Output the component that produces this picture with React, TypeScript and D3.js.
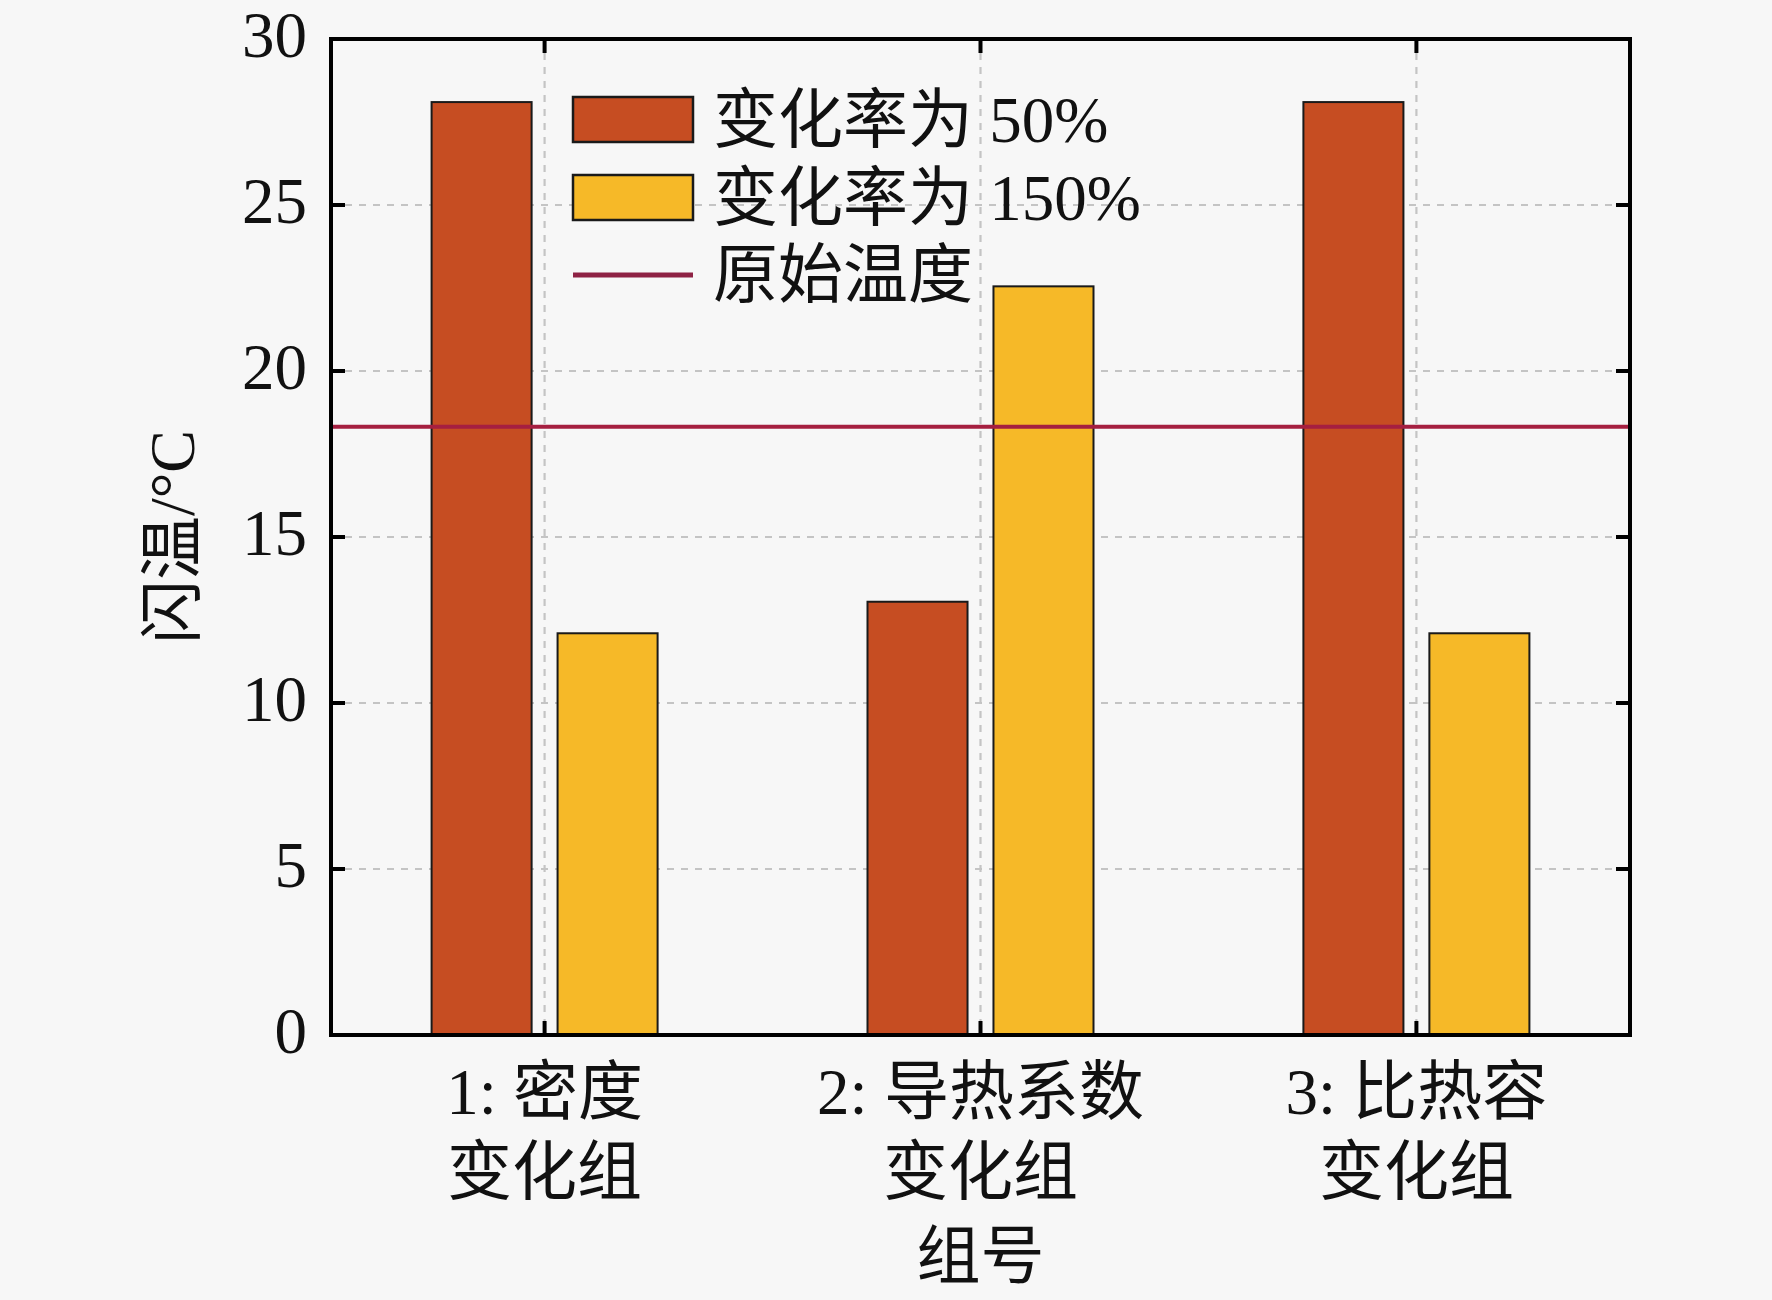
import * as d3 from "d3";
import { useEffect, useRef } from "react";

// values
const groupKeys = ["1", "2", "3"];
const groupLines = [
  ["1: 密度", "变化组"],
  ["2: 导热系数", "变化组"],
  ["3: 比热容", "变化组"],
];
const seriesKeys = ["r50", "r150"];
const seriesNames = ["变化率为 50%", "变化率为 150%"];
const seriesColors = ["#c64d22", "#f6b928"];
const rate50 = [28.1, 13.05, 28.1];
const rate150 = [12.1, 22.55, 12.1];
const originalTemp = 18.32;
const originalName = "原始温度";
const lineColor = "#a51f40";
const yTicks = [0, 5, 10, 15, 20, 25, 30];
const yLabel = "闪温/°C";
const xLabel = "组号";

const W = 1772;
const H = 1300;
const FONT = '"Times New Roman", "Liberation Serif", "Noto Sans CJK SC", serif';

export default function App() {
  const svgRef = useRef<SVGSVGElement>(null);

  useEffect(() => {
    if (!svgRef.current) return;
    const svg = d3.select(svgRef.current);
    svg.selectAll("*").remove();

    const m = { top: 39, right: 142, bottom: 265, left: 331 };
    const x0 = m.left;
    const x1 = W - m.right;
    const y0 = H - m.bottom;
    const y1 = m.top;

    svg.append("rect").attr("width", W).attr("height", H).attr("fill", "#f7f7f7");

    const x = d3.scalePoint<string>().domain(groupKeys).range([x0, x1]).padding(0.49);
    const xs = d3.scaleBand<string>().domain(seriesKeys).range([-113, 113]).paddingInner(0.206);
    const y = d3.scaleLinear().domain([0, 30]).range([y0, y1]);

    // grid
    const grid = svg.append("g").attr("stroke", "#c4c4c4").attr("stroke-width", 2.2).attr("stroke-dasharray", "7,7");
    grid
      .selectAll("line.h")
      .data(yTicks.filter((t) => t > 0 && t < 30))
      .enter()
      .append("line")
      .attr("x1", x0)
      .attr("x2", x1)
      .attr("y1", (d) => y(d))
      .attr("y2", (d) => y(d));
    grid
      .selectAll("line.v")
      .data(groupKeys)
      .enter()
      .append("line")
      .attr("x1", (d) => x(d)!)
      .attr("x2", (d) => x(d)!)
      .attr("y1", y1)
      .attr("y2", y0);

    // bars
    const series = [rate50, rate150];
    series.forEach((vals, si) => {
      svg
        .append("g")
        .selectAll("rect")
        .data(vals)
        .enter()
        .append("rect")
        .attr("x", (_, i) => x(groupKeys[i])! + xs(seriesKeys[si])!)
        .attr("y", (d) => y(d))
        .attr("width", xs.bandwidth())
        .attr("height", (d) => y(0) - y(d))
        .attr("fill", seriesColors[si])
        .attr("stroke", "#1a1a1a")
        .attr("stroke-width", 2);
    });

    // original temperature
    svg
      .append("line")
      .attr("x1", x0)
      .attr("x2", x1)
      .attr("y1", y(originalTemp))
      .attr("y2", y(originalTemp))
      .attr("stroke", lineColor)
      .attr("stroke-width", 4);

    // frame + ticks
    const frame = svg.append("g").attr("stroke", "#000").attr("stroke-width", 4);
    frame
      .append("rect")
      .attr("x", x0)
      .attr("y", y1)
      .attr("width", x1 - x0)
      .attr("height", y0 - y1)
      .attr("fill", "none");
    const tl = 14;
    for (const t of yTicks.filter((t) => t > 0 && t < 30)) {
      frame.append("line").attr("x1", x0).attr("x2", x0 + tl).attr("y1", y(t)).attr("y2", y(t));
      frame.append("line").attr("x1", x1).attr("x2", x1 - tl).attr("y1", y(t)).attr("y2", y(t));
    }
    for (const g of groupKeys) {
      frame.append("line").attr("x1", x(g)!).attr("x2", x(g)!).attr("y1", y0).attr("y2", y0 - tl);
      frame.append("line").attr("x1", x(g)!).attr("x2", x(g)!).attr("y1", y1).attr("y2", y1 + tl);
    }

    // y tick labels
    svg
      .append("g")
      .selectAll("text")
      .data(yTicks)
      .enter()
      .append("text")
      .attr("x", x0 - 24)
      .attr("y", (d) => y(d) - 4)
      .attr("text-anchor", "end")
      .attr("dominant-baseline", "central")
      .attr("font-family", FONT)
      .attr("font-size", 65)
      .attr("fill", "#111")
      .text((d) => d);

    // category labels
    groupLines.forEach((lines, i) => {
      lines.forEach((ln, j) => {
        svg
          .append("text")
          .attr("x", x(groupKeys[i])!)
          .attr("y", 1092 + j * 80)
          .attr("text-anchor", "middle")
          .attr("dominant-baseline", "central")
          .attr("font-family", FONT)
          .attr("font-size", 65)
          .attr("fill", "#111")
          .text(ln);
      });
    });

    svg
      .append("text")
      .attr("x", x("2")!)
      .attr("y", 1256)
      .attr("text-anchor", "middle")
      .attr("dominant-baseline", "central")
      .attr("font-family", FONT)
      .attr("font-size", 64)
      .attr("fill", "#111")
      .text(xLabel);

    svg
      .append("text")
      .attr("transform", `translate(172,${(y0 + y1) / 2}) rotate(-90)`)
      .attr("text-anchor", "middle")
      .attr("dominant-baseline", "central")
      .attr("font-family", FONT)
      .attr("font-size", 64)
      .attr("fill", "#111")
      .text(yLabel);

    // legend
    const lg = svg.append("g").attr("transform", "translate(573,97)");
    const rowH = 78;
    seriesNames.forEach((name, i) => {
      lg.append("rect")
        .attr("x", 0)
        .attr("y", i * rowH)
        .attr("width", 120)
        .attr("height", 45)
        .attr("fill", seriesColors[i])
        .attr("stroke", "#1a1a1a")
        .attr("stroke-width", 2.5);
      lg.append("text")
        .attr("x", 140)
        .attr("y", i * rowH + 22.5)
        .attr("dominant-baseline", "central")
        .attr("font-family", FONT)
        .attr("font-size", 65)
        .attr("fill", "#111")
        .text(name);
    });
    lg.append("line")
      .attr("x1", 0)
      .attr("x2", 120)
      .attr("y1", 2 * rowH + 22)
      .attr("y2", 2 * rowH + 22)
      .attr("stroke", "#8e2244")
      .attr("stroke-width", 5);
    lg.append("text")
      .attr("x", 140)
      .attr("y", 2 * rowH + 22)
      .attr("dominant-baseline", "central")
      .attr("font-family", FONT)
      .attr("font-size", 65)
      .attr("fill", "#111")
      .text(originalName);
  }, []);

  return (
    <svg
      ref={svgRef}
      width={W}
      height={H}
      style={{ position: "absolute", left: 0, top: 0, display: "block" }}
    />
  );
}
